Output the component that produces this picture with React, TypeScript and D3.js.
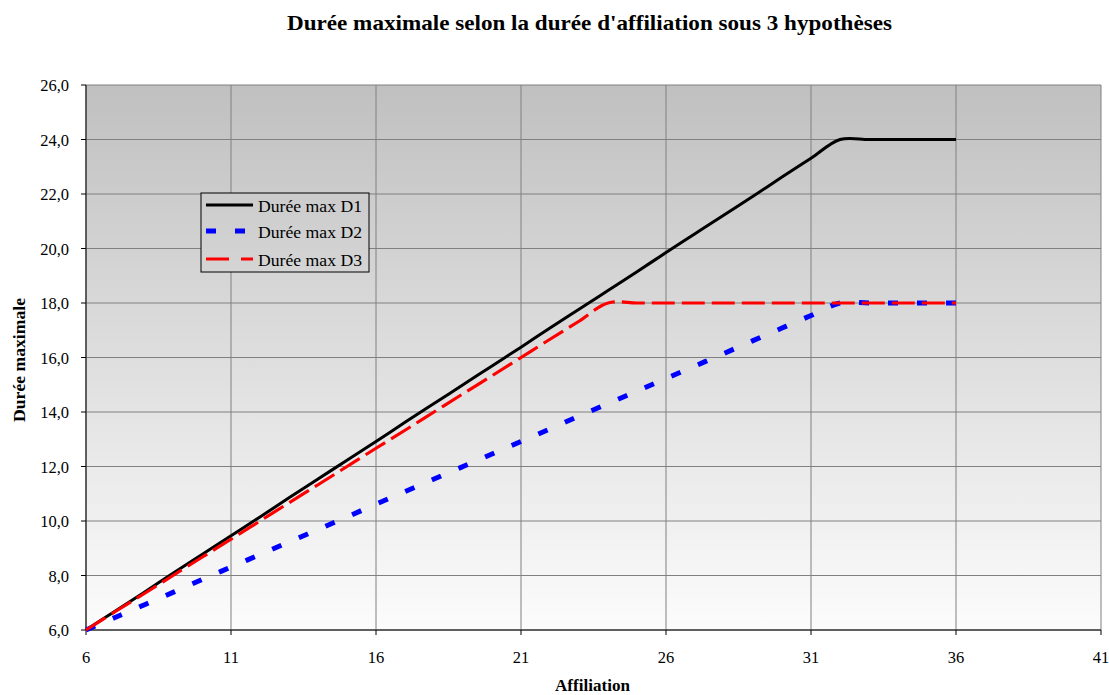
import React from 'react';
import * as d3 from 'd3';

const affiliation = [6,7,8,9,10,11,12,13,14,15,16,17,18,19,20,21,22,23,24,25,26,27,28,29,30,31,32,33,34,35,36];
const dureeD1 = [6.0,6.69,7.38,8.08,8.77,9.46,10.15,10.85,11.54,12.23,12.92,13.62,14.31,15.0,15.69,16.38,17.08,17.77,18.46,19.15,19.85,20.54,21.23,21.92,22.62,23.31,24.0,24.0,24.0,24.0,24.0];
const dureeD2 = [6.0,6.46,6.92,7.38,7.85,8.31,8.77,9.23,9.69,10.15,10.62,11.08,11.54,12.0,12.46,12.92,13.38,13.85,14.31,14.77,15.23,15.69,16.15,16.62,17.08,17.54,18.0,18.0,18.0,18.0,18.0];
const dureeD3 = [6.0,6.67,7.33,8.0,8.67,9.33,10.0,10.67,11.33,12.0,12.67,13.33,14.0,14.67,15.33,16.0,16.67,17.33,18.0,18.0,18.0,18.0,18.0,18.0,18.0,18.0,18.0,18.0,18.0,18.0,18.0];
const xTicks = [6,11,16,21,26,31,36,41];
const yTicks = [6,8,10,12,14,16,18,20,22,24,26];
const seriesNames = ['Durée max D1','Durée max D2','Durée max D3'];
const title = "Durée maximale selon la durée d'affiliation sous 3 hypothèses";
const xTitle = 'Affiliation';
const yTitle = 'Durée maximale';

const W = 1109, H = 695;
const L = 86, R = 1101, T = 85, B = 630;
const FONT = "'Liberation Serif', 'Times New Roman', serif";

export default function App() {
  const x = d3.scaleLinear().domain([6, 41]).range([L, R]);
  const y = d3.scaleLinear().domain([6, 26]).range([B, T]);
  const line = d3.line<[number, number]>()
    .x(d => x(d[0])).y(d => y(d[1])).curve(d3.curveCatmullRom);
  const series = [dureeD1, dureeD2, dureeD3];
  const styles = [
    { stroke: '#000000', width: 3, dash: undefined as string | undefined },
    { stroke: '#0000ff', width: 5, dash: '10,19' },
    { stroke: '#ff0000', width: 3.2, dash: '23,7' },
  ];
  const legendDash = [undefined, '10,19', '23,12'] as (string | undefined)[];
  const legendRows = [205, 231, 259];
  const fmt = (v: number) => v.toFixed(1).replace('.', ',');
  const tf = { fontFamily: FONT };
  return (
    <svg width={W} height={H} style={{ position: 'absolute', left: 0, top: 0 }}>
      <defs>
        <linearGradient id="bg" gradientUnits="userSpaceOnUse" x1={0} y1={T} x2={0} y2={B}>
          <stop offset="0" stopColor="#c0c0c0" />
          <stop offset="1" stopColor="#fcfcfc" />
        </linearGradient>
      </defs>
      <rect x={0} y={0} width={W} height={H} fill="#ffffff" />
      <rect x={L} y={T} width={R - L} height={B - T} fill="url(#bg)" />
      {yTicks.map(t => (
        <line key={'gy' + t} x1={L} x2={R} y1={y(t)} y2={y(t)} stroke="#808080" strokeWidth={1} />
      ))}
      {xTicks.map(t => (
        <line key={'gx' + t} x1={x(t)} x2={x(t)} y1={T} y2={B} stroke="#808080" strokeWidth={1} />
      ))}
      <line x1={L} x2={L} y1={T} y2={B} stroke="#404040" strokeWidth={1.5} />
      <line x1={L} x2={R} y1={B} y2={B} stroke="#404040" strokeWidth={1.5} />
      {yTicks.map(t => (
        <g key={'ty' + t}>
          <line x1={L - 5} x2={L} y1={y(t)} y2={y(t)} stroke="#000" />
          <text x={69} y={y(t) + 6} textAnchor="end" fontSize={16.5} fill="#000" style={tf}>{fmt(t)}</text>
        </g>
      ))}
      {xTicks.map(t => (
        <g key={'tx' + t}>
          <line x1={x(t)} x2={x(t)} y1={B} y2={B + 5} stroke="#000" />
          <text x={x(t)} y={663} textAnchor="middle" fontSize={16.5} fill="#000" style={tf}>{t}</text>
        </g>
      ))}
      {series.map((s, i) => (
        <path key={'s' + i}
          d={line(affiliation.map((a, j) => [a, s[j]] as [number, number])) || ''}
          fill="none" stroke={styles[i].stroke} strokeWidth={styles[i].width}
          strokeDasharray={styles[i].dash} />
      ))}
      <rect x={201} y={193} width={168} height={79} fill="url(#bg)" stroke="#000" strokeWidth={1} />
      {seriesNames.map((n, i) => {
        const ly = legendRows[i];
        return (
          <g key={'lg' + i}>
            <line x1={206} x2={253} y1={ly} y2={ly} stroke={styles[i].stroke} strokeWidth={styles[i].width}
              strokeDasharray={legendDash[i]} />
            <text x={258} y={ly + 7} fontSize={17} fill="#000" style={tf} textLength={104} lengthAdjust="spacingAndGlyphs">{n}</text>
          </g>
        );
      })}
      <text x={589.5} y={30} textAnchor="middle" fontSize={21} fontWeight="bold" fill="#000" style={tf} textLength={605} lengthAdjust="spacingAndGlyphs">{title}</text>
      <text x={592.5} y={691} textAnchor="middle" fontSize={16.5} fontWeight="bold" fill="#000" style={tf} textLength={75} lengthAdjust="spacingAndGlyphs">{xTitle}</text>
      <text transform={`translate(25,360) rotate(-90)`} textAnchor="middle" fontSize={16.5} fontWeight="bold" fill="#000" style={tf} textLength={124} lengthAdjust="spacingAndGlyphs">{yTitle}</text>
    </svg>
  );
}
